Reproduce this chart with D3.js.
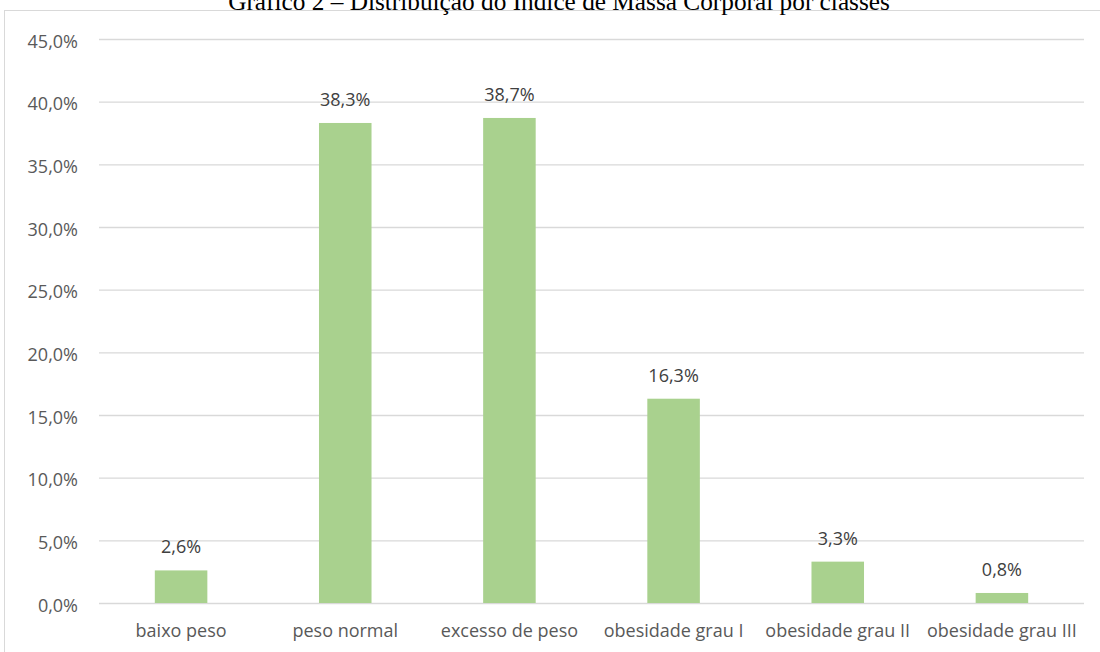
<!DOCTYPE html>
<html>
<head>
<meta charset="utf-8">
<script src="https://cdn.jsdelivr.net/npm/d3@7"></script>
<style>
  body { margin: 0; background: #fff; }
  svg { display: block; }
</style>
</head>
<body>
<script>
var width = 1100;
var height = 652;

var categories = ["baixo peso", "peso normal", "excesso de peso", "obesidade grau I", "obesidade grau II", "obesidade grau III"];
var values = [2.6, 38.3, 38.7, 16.3, 3.3, 0.8];
var yTicks = [0, 5, 10, 15, 20, 25, 30, 35, 40, 45];
var title = "Gráfico 2 – Distribuição do Índice de Massa Corporal por classes";

var fmt = v => d3.format(".1f")(v).replace(".", ",") + "%";
var font = "Open Sans, Noto Sans, sans-serif";

var x = d3.scaleBand().domain(categories).range([99, 1084]).paddingInner(0.68).paddingOuter(0.34);
var y = d3.scaleLinear().domain([0, 45]).range([603, 39]);

var svg = d3.select("body").append("svg")
    .attr("width", width)
    .attr("height", height)
;

// frame
svg.append("rect")
    .attr("x", 4.5).attr("y", 10.5)
    .attr("width", 1120).attr("height", 700)
    .attr("fill", "none")
    .attr("stroke", "#d9d9d9")
;

svg.append("text")
    .attr("x", 559).attr("y", 10)
    .attr("text-anchor", "middle")
    .attr("font-family", "Liberation Serif, Times New Roman, serif")
    .attr("font-size", 25.3)
    .attr("fill", "#000")
    .text(title)
;

var yAxis = svg.append("g")
    .attr("transform", "translate(99,0)")
    .call(d3.axisLeft(y).tickValues(yTicks).tickSize(-985).tickPadding(21).tickFormat(fmt))
;
yAxis.select(".domain").remove();
yAxis.selectAll("line").attr("stroke", "#d9d9d9").attr("stroke-width", 1.3);
yAxis.selectAll("text")
    .attr("dy", "0.45em")
    .attr("font-family", font)
    .attr("font-size", 18)
    .attr("fill", "#595959")
;

var xAxis = svg.append("g")
    .attr("transform", "translate(0,603)")
    .call(d3.axisBottom(x).tickSize(0).tickPadding(21))
;
xAxis.select(".domain").remove();
xAxis.selectAll("text")
    .attr("font-family", font)
    .attr("font-size", 18)
    .attr("fill", "#595959")
;

var data = categories.map((c, i) => ({cat: c, val: values[i]}));

svg.append("g").selectAll("rect")
    .data(data)
    .enter().append("rect")
    .attr("x", d => x(d.cat))
    .attr("y", d => y(d.val))
    .attr("width", x.bandwidth())
    .attr("height", d => y(0) - y(d.val))
    .attr("fill", "#a9d18e")
;

svg.append("g").selectAll("text")
    .data(data)
    .enter().append("text")
    .attr("x", d => x(d.cat) + x.bandwidth() / 2)
    .attr("y", d => y(d.val) - 17)
    .attr("text-anchor", "middle")
    .attr("font-family", font)
    .attr("font-size", 18)
    .attr("fill", "#404040")
    .text(d => fmt(d.val))
;
</script>
</body>
</html>
